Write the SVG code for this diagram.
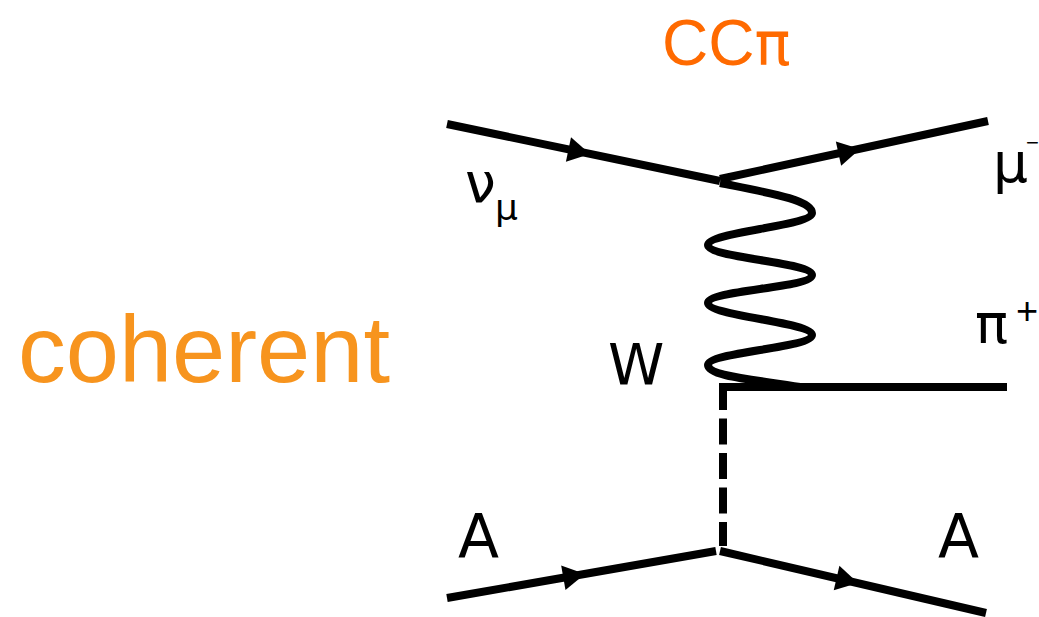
<svg xmlns="http://www.w3.org/2000/svg" xmlns:xlink="http://www.w3.org/1999/xlink" width="1039" height="617" viewBox="0 0 1039 617">
<style>
.ln{stroke:#000;stroke-width:8;fill:none}
.lbl{font-family:"DejaVu Sans",sans-serif;fill:#000}
.ttl{font-family:"Liberation Sans",Arial,sans-serif}
</style>
<defs>
<polygon id="arr" points="0,0 -22,-12.5 -22,12.5" fill="#000"/>
</defs>
<rect width="1039" height="617" fill="#fff"/>
<g id="title"><text class="ttl" x="662" y="65" font-size="64" fill="#FF6A00">CC<tspan font-family="DejaVu Sans, sans-serif" font-size="60">π</tspan></text></g>
<g id="label-coherent"><text class="ttl" x="18" y="382" font-size="95" fill="#F7941E" textLength="372" lengthAdjust="spacingAndGlyphs">coherent</text></g>
<g id="connectors">
<line class="ln" x1="447" y1="124" x2="720" y2="181"/>
<line class="ln" x1="720" y1="179" x2="988" y2="121"/>
<path class="ln" d="M720,183 C770,193 812,200 812,213 C812,226 708,232 708,245 C708,258 812,262 812,275 C812,288 708,290 708,303 C708,316 812,322 812,335 C812,348 708,352 708,365 C708,377 760,380 800,387"/>
<line class="ln" x1="719" y1="387" x2="1007" y2="387"/>
<line class="ln" x1="723" y1="384" x2="723" y2="546" stroke-dasharray="26 8.5"/>
<line class="ln" x1="447" y1="598" x2="716" y2="551"/>
<line class="ln" x1="720" y1="551" x2="986" y2="613"/>
<use xlink:href="#arr" transform="translate(590,154) rotate(11.8)"/>
<use xlink:href="#arr" transform="translate(860,149) rotate(-12.2)"/>
<use xlink:href="#arr" transform="translate(585,574) rotate(-9.9)"/>
<use xlink:href="#arr" transform="translate(858,583) rotate(13.1)"/>
</g>
<g id="nu-mu"><text class="lbl" x="465" y="202" font-size="55">ν</text><text class="lbl" x="495" y="220" font-size="36">μ</text></g>
<g id="mu-minus"><text class="lbl" x="993" y="182" font-size="55">μ</text><text x="1026" y="150" font-size="22" font-family="Liberation Sans, sans-serif">−</text></g>
<g id="pi-plus"><text class="lbl" x="975" y="343" font-size="55">π</text><text x="1016" y="324" font-size="38" font-family="Liberation Sans, sans-serif">+</text></g>
<g id="W"><text class="lbl" x="608" y="385" font-size="57">W</text></g>
<g id="A-in"><text class="lbl" x="458" y="557" font-size="60">A</text></g>
<g id="A-out"><text class="lbl" x="938" y="557" font-size="60">A</text></g>
</svg>
